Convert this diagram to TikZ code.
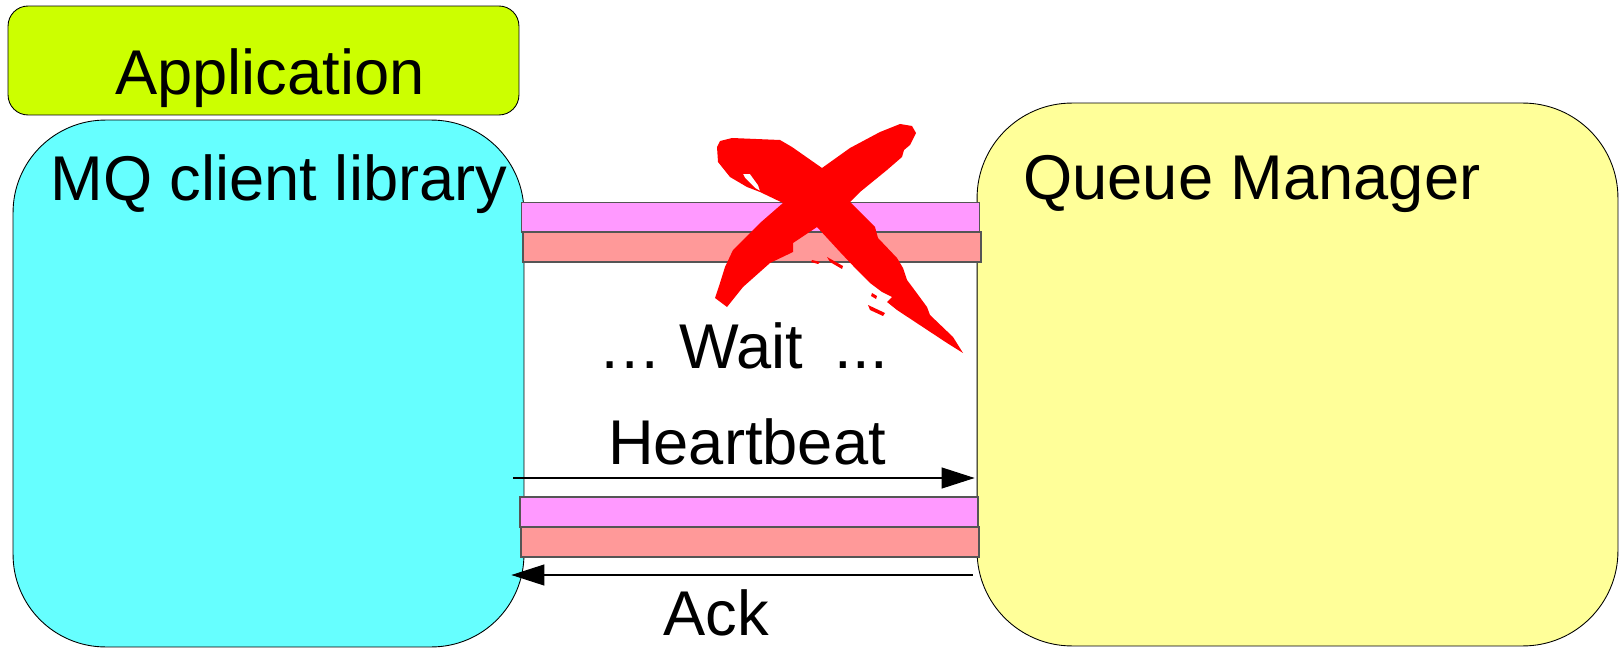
\documentclass[tikz,border=0pt]{standalone}
\usepackage{fontspec}
\setmainfont{Liberation Sans}
\usetikzlibrary{arrows.meta,positioning}

\definecolor{appgreen}{HTML}{CCFF00}
\definecolor{clientcyan}{HTML}{66FFFF}
\definecolor{qmyellow}{HTML}{FFFF99}
\definecolor{chanpink}{HTML}{FF99FF}
\definecolor{chanred}{HTML}{FF9999}
\definecolor{barline}{HTML}{555555}

\begin{document}
\begin{tikzpicture}[x=0.02cm,y=-0.02cm,
  box/.style={draw=black,line width=0.5pt,rounded corners=#1,inner sep=0pt},
  bar/.style={draw=barline,line width=0.8pt,inner sep=0pt,minimum width=9.16cm,minimum height=0.6cm},
  txt/.style={font=\fontsize{36}{43}\selectfont,inner sep=0pt,anchor=base},
  msg/.style={line width=0.6pt,-{Triangle[length=0.66cm,width=0.42cm]}},
  xmark/.style={fill=red,even odd rule}]
  \useasboundingbox (0,0) rectangle (1621,648); %Page size

  \node[box=0.4cm,fill=appgreen,minimum width=10.22cm,minimum height=2.18cm] (app) at (263.5,60.5) {}; %Application box
  \node[box=1.85cm,fill=clientcyan,minimum width=10.22cm,minimum height=10.54cm] (client) at (268.5,383.5) {}; %Client library box
  \node[box=1.9cm,fill=qmyellow,minimum width=12.82cm,minimum height=10.86cm] (qmgr) at (1297.5,374.5) {}; %Queue manager box

  \node[bar,fill=chanpink] (chanA1) at (750.5,217.5) {}; %Channel before failure
  \node[bar,fill=chanred] (chanB1) at (752,247) {};      %Channel before failure
  \node[bar,fill=chanpink] (chanA2) at (749,512) {};     %Channel after heartbeat
  \node[bar,fill=chanred] (chanB2) at (750,542) {};      %Channel after heartbeat

  \coordinate (hb) at (0,478);
  \coordinate (ack) at (0,575);
  \draw[msg] ([xshift=-0.22cm]client.east |- hb) -- ([xshift=-0.04cm]qmgr.west |- hb); %Heartbeat flow
  \draw[msg] ([xshift=-0.08cm]qmgr.west |- ack) -- ([xshift=-0.26cm]client.east |- ack); %Ack flow

  \node[txt] (applbl) at (270,95) {Application};
  \node[txt,anchor=base west] (clientlbl) at (50,201) {MQ client library};
  \node[txt,anchor=base west] (qmgrlbl) at (1023,200) {Queue Manager};
  \node[txt,anchor=base west] (waitlbl) at (598,368) {… Wait\hspace{0.5em}...};
  \node[txt] (hblbl) at (747,464) {Heartbeat};
  \node[txt] (acklbl) at (716,635) {Ack};

  %Red cross over the broken channel
  \fill[xmark] (717,147) -- (720,141) -- (732,138) -- (780,140) -- (792,147) -- (822,168)
    -- (850,148) -- (880,132) -- (900,124) -- (912,126) -- (916,133) -- (910,145)
    -- (904,150) -- (902,157) -- (887,170) -- (860,192) -- (850,202) -- (863,215)
    -- (875,227) -- (878,238) -- (897,258) -- (903,268) -- (907,280) -- (913,288)
    -- (927,307) -- (930,315) -- (953,337) -- (963,353) -- (947,343) -- (897,310)
    -- (887,302) -- (892,297) -- (882,292) -- (870,283) -- (857,270) -- (840,252)
    -- (817,227) -- (793,243) -- (793,252) -- (770,263) -- (743,287) -- (727,307)
    -- (715,298) -- (720,283) -- (725,267) -- (733,250) -- (760,223) -- (783,203)
    -- (760,192) -- (747,187) -- (730,177) -- (718,162) -- cycle
    (743,174) -- (750,174) -- (758,185) -- (760,191) -- (755,188) -- (745,178) -- cycle;
  \fill[xmark] (812,260) -- (820,262) -- (818,264) -- (811,262) -- cycle; %Splashes
  \fill[xmark] (827,257) -- (843,266) -- (842,269) -- (830,262) -- cycle;
  \fill[xmark] (868,305) -- (885,313) -- (883,316) -- (870,310) -- cycle;
  \fill[xmark] (872,293) -- (877,296) -- (876,299) -- (871,296) -- cycle;
\end{tikzpicture}
\end{document}
